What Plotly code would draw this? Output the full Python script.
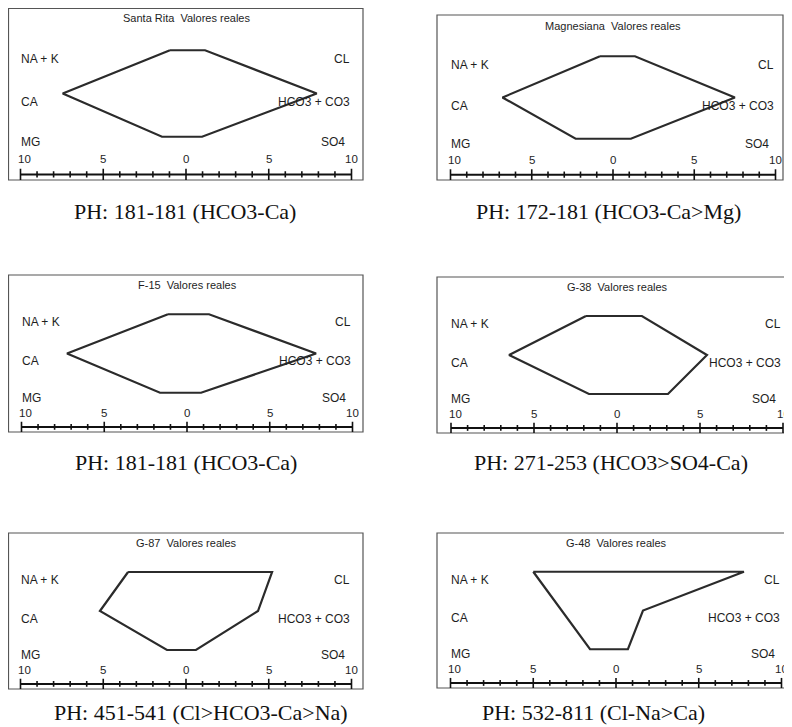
import plotly.graph_objects as go

# ---------------- data ----------------
stations = ["Santa Rita", "Magnesiana", "F-15", "G-38", "G-87", "G-48"]
captions = ["PH: 181-181 (HCO3-Ca)", "PH: 172-181 (HCO3-Ca>Mg)",
            "PH: 181-181 (HCO3-Ca)", "PH: 271-253 (HCO3>SO4-Ca)",
            "PH: 451-541 (Cl>HCO3-Ca>Na)", "PH: 532-811 (Cl-Na>Ca)"]
# meq/l (cations plotted to the left, anions to the right)
na_k = [0.97, 0.80, 1.15, 1.87, 3.50, 5.00]
ca   = [7.45, 6.80, 7.25, 6.50, 5.20, 3.30]
mg   = [1.45, 2.30, 1.63, 1.69, 1.15, 1.57]
cl   = [1.15, 1.35, 1.33, 1.50, 5.20, 7.73]
hco3 = [7.90, 7.50, 7.80, 5.42, 4.35, 1.63]
so4  = [0.97, 1.10, 0.85, 3.07, 0.60, 0.72]

left_labels = ["NA + K", "CA", "MG"]
right_labels = ["CL", "HCO3 + CO3", "SO4"]
levels = [3, 2, 1]
tick_values = list(range(-10, 11))
major_ticks = [-10, -5, 0, 5, 10]
major_tick_labels = ["10", "5", "0", "5", "10"]

# ---------------- layout geometry (window pixels) ----------------
OFF = 8                      # page body margin
W, H = 792 - OFF, 727 - OFF  # figure size
# left, right, top, bottom, x of zero, px per unit  (window coordinates)
panels = [
    (7, 363, 7, 180, 186, 16.55),
    (437, 783, 15, 180, 613, 16.25),
    (7, 363, 275, 432, 187, 16.55),
    (437, 792, 277, 433, 617, 16.6),
    (7, 363, 533, 689, 186, 16.55),
    (437, 792, 533, 688, 616, 16.55),
]
caption_pos = [(185, 212), (608, 212), (186, 462), (611, 462), (201, 712), (593, 712)]

SANS = "Liberation Sans"
SERIF = "Liberation Serif"
TXT = "#1e1e1e"

fig = go.Figure()
layout = dict(width=W, height=H, margin=dict(l=0, r=0, t=0, b=0),
              paper_bgcolor="white", plot_bgcolor="white", showlegend=False)
annotations = []
shapes = []

AXIS_Y = 0.13
MAJ_H = 0.13
MIN_H = 0.075

for i, (l, r, t, b, z, s) in enumerate(panels):
    k = i + 1
    xa = "x" if k == 1 else f"x{k}"
    ya = "y" if k == 1 else f"y{k}"
    L = max(l - OFF, 0.5)
    R = min(r - OFF, W)
    T0 = t - OFF
    T = max(T0, 0.5)
    B = b - OFF
    Z = z - OFF
    xr = [(L - Z) / s, (R - Z) / s]
    ytop = 4 * (B - T) / (B - T0)
    layout[f"xaxis{k}"] = dict(domain=[L / W, R / W], range=xr, visible=False,
                               anchor=ya, fixedrange=True)
    layout[f"yaxis{k}"] = dict(domain=[1 - B / H, 1 - T / H], range=[0, ytop], visible=False,
                               anchor=xa, fixedrange=True)
    # frame
    x1 = 1.05 if r >= 792 else 1
    shapes.append(dict(type="rect", xref=f"{xa} domain", yref=f"{ya} domain",
                       x0=0, x1=x1, y0=0, y1=1, line=dict(color="#555", width=1.2),
                       layer="below"))

    # Stiff polygon
    px = [-na_k[i], -ca[i], -mg[i], so4[i], hco3[i], cl[i], -na_k[i]]
    py = [levels[0], levels[1], levels[2], levels[2], levels[1], levels[0], levels[0]]
    fig.add_trace(go.Scatter(x=px, y=py, mode="lines", xaxis=xa, yaxis=ya,
                             line=dict(color="#2b2b2b", width=2.2), hoverinfo="skip"))

    # scale line
    fig.add_trace(go.Scatter(x=[tick_values[0], tick_values[-1]], y=[AXIS_Y, AXIS_Y],
                             mode="lines", xaxis=xa, yaxis=ya,
                             line=dict(color="#111", width=2), hoverinfo="skip"))
    tx, ty = [], []
    for v in tick_values:
        h = MAJ_H if v in major_ticks else MIN_H
        tx += [v, v, None]
        ty += [AXIS_Y - h, AXIS_Y + h, None]
    fig.add_trace(go.Scatter(x=tx, y=ty, mode="lines", xaxis=xa, yaxis=ya,
                             line=dict(color="#111", width=1.6), hoverinfo="skip"))
    for v, lab in zip(major_ticks, major_tick_labels):
        annotations.append(dict(x=v + (0.25 if v == -10 else 0), y=0.49, xref=xa, yref=ya,
                                text=lab, showarrow=False,
                                font=dict(family=SANS, size=11.5, color=TXT)))

    # title
    annotations.append(dict(x=0, y=3.74, xref=xa, yref=ya, showarrow=False,
                            text=f"{stations[i]}  Valores reales",
                            font=dict(family=SANS, size=11, color=TXT)))
    # ion labels
    for lab, lv in zip(left_labels, levels):
        yy = lv - (0.13 if lv == 1 else 0.2)
        annotations.append(dict(x=-10.1, y=yy, xref=xa, yref=ya, showarrow=False,
                                text=lab, xanchor="left",
                                font=dict(family=SANS, size=12, color=TXT)))
    for lab, lv in zip(right_labels, levels):
        xpos = 9.7 if lab == "SO4" else 10.0
        yy = lv - (0.13 if lv == 1 else 0.2)
        annotations.append(dict(x=xpos, y=yy, xref=xa, yref=ya, showarrow=False,
                                text=lab, xanchor="right",
                                font=dict(family=SANS, size=12, color=TXT)))
    # caption
    cx, cy = caption_pos[i]
    annotations.append(dict(x=(cx - OFF) / W, y=1 - (cy - OFF) / H, xref="paper", yref="paper",
                            xanchor="center", yanchor="middle",
                            showarrow=False, text=captions[i],
                            font=dict(family=SERIF, size=22, color="#111")))

layout["annotations"] = annotations
layout["shapes"] = shapes
fig.update_layout(**layout)
fig.write_html("out.html")
